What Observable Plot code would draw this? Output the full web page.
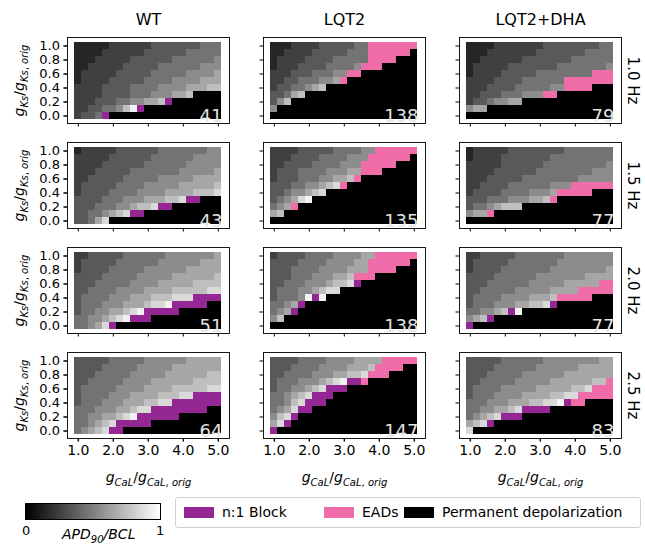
<!DOCTYPE html>
<html><head><meta charset="utf-8">
<script src="https://cdn.jsdelivr.net/npm/d3@7"></script>
<script src="https://cdn.jsdelivr.net/npm/@observablehq/plot@0.6"></script>
<style>
body{margin:0;background:#fff;font-family:"DejaVu Sans",sans-serif;color:#000;}
#wrap{position:relative;width:645px;height:544px;overflow:hidden;background:#fff;}
#chart{position:absolute;left:0;top:0;}
.abs{position:absolute;white-space:nowrap;}
#leg{position:absolute;left:175px;top:497px;width:466px;height:31px;border:1px solid #d0d0d0;border-radius:3px;box-sizing:border-box;font-size:14px;}
.sw{position:absolute;top:9px;width:30px;height:11px;}
.lt{position:absolute;top:6px;}
</style></head><body>
<div id="wrap">
<div id="chart"></div>
<div class="abs" style="left:25px;top:503px;width:136px;height:17px;background:linear-gradient(to right,#000,#fff);border:0.8px solid #000;box-sizing:border-box;"></div>
<div class="abs" style="left:22px;top:523px;font-size:13px;">0</div>
<div class="abs" style="left:156px;top:523px;font-size:13px;">1</div>
<div class="abs" style="left:62px;top:526px;font-size:14px;font-style:italic;">APD<sub style="font-size:10px">90</sub>/BCL</div>
<div id="leg">
  <div class="sw" style="left:8px;background:#942794"></div><div class="lt" style="left:46px">n:1 Block</div>
  <div class="sw" style="left:148px;background:#f06ca8"></div><div class="lt" style="left:186px">EADs</div>
  <div class="sw" style="left:228px;background:#000"></div><div class="lt" style="left:266px">Permanent depolarization</div>
</div>
</div>
<script>
// ---- categories / ticks ----
const genotypes = ["WT", "LQT2", "LQT2+DHA"];
const freqs = ["1.0 Hz", "1.5 Hz", "2.0 Hz", "2.5 Hz"];
const gCaL = [1.0,1.2,1.4,1.6,1.8,2.0,2.2,2.4,2.6,2.8,3.0,3.2,3.4,3.6,3.8,4.0,4.2,4.4,4.6,4.8,5.0];
const gKs = [1.0,0.9,0.8,0.7,0.6,0.5,0.4,0.3,0.2,0.1,0.0];
const xTicks = [1.0,2.0,3.0,4.0,5.0];
const yTicks = [0.0,0.2,0.4,0.6,0.8,1.0];
// numbers of abnormal cells per panel (1.0, 1.5, 2.0, 2.5 Hz)
const countsWT = [41, 43, 51, 64];
const countsLQT2 = [138, 135, 138, 147];
const countsDHA = [79, 77, 77, 83];
// ---- cell states, rows gKs 1.0 -> 0.0, cols gCaL 1.0 -> 5.0
// digit d: APD90/BCL about (d+0.5)/10 ; B = n:1 block ; E = EADs ; P = permanent depolarization
const WT_10 = [
"11111 22222 23333 33344 4","11112 22222 33333 34444 4","11122 22233 33334 44444 5",
"11222 22333 33444 44455 5","12222 23333 34444 45555 6","12222 33333 44445 55566 6",
"22223 33344 44555 56667 7","22223 33344 45556 67PPP P","22233 34455 667BP PPPPP P",
"22334 4579B PPPPP PPPPP P","2334B PPPPP PPPPP PPPPP P"];
const LQT2_10 = [
"11122 22333 3344E EEEEE E","11222 23333 3444E EEEEE P","12222 33334 4444E EEEPP P",
"12223 33344 445EE EPPPP P","22233 34445 5EEPP PPPPP P","22334 44556 EPPPP PPPPP P",
"23344 567PP PPPPP PPPPP P","33467 PPPPP PPPPP PPPPP P","357PP PPPPP PPPPP PPPPP P",
"5PPPP PPPPP PPPPP PPPPP P","PPPPP PPPPP PPPPP PPPPP P"];
const DHA_10 = [
"11112 22222 23333 33334 4","11122 22222 33333 33444 4","11222 22233 33333 44444 4",
"12222 23333 33344 44444 5","12222 33333 44444 444EE E","22223 33344 4444E EEEEE E",
"22233 33444 4455E EEEPP P","22333 44455 5EEPP PPPPP P","23345 566PP PPPPP PPPPP P",
"566PP PPPPP PPPPP PPPPP P","PPPPP PPPPP PPPPP PPPPP P"];
const WT_15 = [
"12222 23333 33444 44445 5","22222 33333 34444 44555 5","22223 33333 44444 45555 5",
"22233 33344 44444 55555 6","22333 33444 44555 55666 6","23333 34444 55555 66666 7",
"23333 44445 55566 66777 8","33334 44555 66677 8BBPP P","33344 45567 78BBP PPPPP P",
"33445 678BB PPPPP PPPPP P","33468 PPPPP PPPPP PPPPP P"];
const LQT2_15 = [
"22223 33334 44455 EEEEE E","22233 33444 4555E EEEEE P","22333 34444 555EE EEEPP P",
"23334 44455 566EE EPPPP P","23334 44556 67EPP PPPPP P","33344 55678 EPPPP PPPPP P",
"33455 678PP PPPPP PPPPP P","34568 9PPPP PPPPP PPPPP P","456EP PPPPP PPPPP PPPPP P",
"67PPP PPPPP PPPPP PPPPP P","PPPPP PPPPP PPPPP PPPPP P"];
const DHA_15 = [
"12222 23333 33334 44444 4","12222 33333 33444 44444 4","22222 33333 34444 44444 5",
"22223 33333 44444 44455 5","22233 33344 44444 45555 5","22333 34444 44555 EEEEE E",
"23333 44445 556EE EEEPP P","33344 45556 67EPP PPPPP P","34456 777PP PPPPP PPPPP P",
"566EP PPPPP PPPPP PPPPP P","PPPPP PPPPP PPPPP PPPPP P"];
const WT_20 = [
"22333 33444 44455 55555 6","23333 34444 44555 55566 6","23333 44444 55555 56666 6",
"33334 44445 55556 66666 7","33344 44455 55666 66777 7","33444 45555 66667 77778 8",
"34444 55566 67778 88BBB B","34445 55666 7889B BBBBP P","34455 66789 BBBBB PPPPP P",
"44556 789BB BPPPP PPPPP P","44568 BPPPP PPPPP PPPPP P"];
const LQT2_20 = [
"23333 44445 55566 EEEEE E","33334 44455 5566E EEEEE P","33344 44555 5666E EEEPP P",
"33344 45556 67EEE PPPPP P","33444 55567 78BPP PPPPP P","34445 56788 PPPPP PPPPP P",
"34445 9B9PP PPPPP PPPPP P","4456B PPPPP PPPPP PPPPP P","456BP PPPPP PPPPP PPPPP P",
"57PPP PPPPP PPPPP PPPPP P","PPPPP PPPPP PPPPP PPPPP P"];
const DHA_20 = [
"22333 33444 44445 55555 5","23333 34444 44455 55555 5","23333 44444 44555 55555 6",
"33334 44444 55555 55666 6","33344 44445 55556 6666E E","33444 44555 55666 6EEEE E",
"34444 55556 667EE EEEPP P","34445 55667 78BPP PPPPP P","44556 7B9PP PPPPP PPPPP P",
"567BP PPPPP PPPPP PPPPP P","BPPPP PPPPP PPPPP PPPPP P"];
const WT_25 = [
"33333 44444 55555 56666 6","33334 44445 55556 66666 6","33344 44455 55566 66667 7",
"33444 44555 56666 66777 7","34444 45555 66667 77778 8","34444 55566 66777 88BBB B",
"34445 55666 7788B BBBBB B","44455 56678 8BBBB BBBBP P","44556 6789B BBBBB PPPPP P",
"44567 8BBBB BPPPP PPPPP P","45678 BBPPP PPPPP PPPPP P"];
const LQT2_25 = [
"33334 44455 55666 6EEEE E","33344 44555 56667 EEEEP P","33444 45556 6778E EEPPP P",
"34445 55678 9BBEP PPPPP P","34455 678BB BPPPP PPPPP P","44567 8BBBP PPPPP PPPPP P",
"44578 BBBPP PPPPP PPPPP P","4568B BPPPP PPPPP PPPPP P","578BP PPPPP PPPPP PPPPP P",
"68BPP PPPPP PPPPP PPPPP P","BPPPP PPPPP PPPPP PPPPP P"];
const DHA_25 = [
"33333 44444 45555 55556 6","33334 44444 55555 56666 6","33344 44455 55556 66666 6",
"33444 44555 55666 66677 E","34444 55555 66666 778EE E","34445 55566 66778 8EEEE E",
"44455 56667 7889B EEPPP P","44556 678BB BBPPP PPPPP P","45678 BBBPP PPPPP PPPPP P",
"678BP PPPPP PPPPP PPPPP P","8PPPP PPPPP PPPPP PPPPP P"];

const panels = [
  {g:"WT", f:"1.0 Hz", rows:WT_10, n:countsWT[0]},
  {g:"LQT2", f:"1.0 Hz", rows:LQT2_10, n:countsLQT2[0]},
  {g:"LQT2+DHA", f:"1.0 Hz", rows:DHA_10, n:countsDHA[0]},
  {g:"WT", f:"1.5 Hz", rows:WT_15, n:countsWT[1]},
  {g:"LQT2", f:"1.5 Hz", rows:LQT2_15, n:countsLQT2[1]},
  {g:"LQT2+DHA", f:"1.5 Hz", rows:DHA_15, n:countsDHA[1]},
  {g:"WT", f:"2.0 Hz", rows:WT_20, n:countsWT[2]},
  {g:"LQT2", f:"2.0 Hz", rows:LQT2_20, n:countsLQT2[2]},
  {g:"LQT2+DHA", f:"2.0 Hz", rows:DHA_20, n:countsDHA[2]},
  {g:"WT", f:"2.5 Hz", rows:WT_25, n:countsWT[3]},
  {g:"LQT2", f:"2.5 Hz", rows:LQT2_25, n:countsLQT2[3]},
  {g:"LQT2+DHA", f:"2.5 Hz", rows:DHA_25, n:countsDHA[3]}
];

const grayCells = [], blockCells = [], eadCells = [], depolCells = [];
for (const p of panels) {
  p.rows.forEach((row, j) => {
    [...row.replace(/\s/g, "")].forEach((c, i) => {
      const d = {g: p.g, f: p.f, x: gCaL[i], y: gKs[j]};
      if (c === "B") blockCells.push(d);
      else if (c === "E") eadCells.push(d);
      else if (c === "P") depolCells.push(d);
      else { d.v = (+c + 0.5) / 10; grayCells.push(d); }
    });
  });
}

const BLOCK = "#942794", EAD = "#f06ca8";
const cellOpts = {x: "x", y: "y", fx: "g", fy: "f", inset: 0, shapeRendering: "crispEdges"};

const plot = Plot.plot({
  width: 645, height: 490,
  marginLeft: 66.7, marginRight: 23.3, marginTop: 36, marginBottom: 50.5,
  fx: {domain: genotypes, paddingInner: 0.172, paddingOuter: 0, axis: null},
  fy: {domain: freqs, paddingInner: 0.18, paddingOuter: 0, axis: null},
  x: {domain: gCaL, padding: 0, axis: null},
  y: {domain: gKs, padding: 0, axis: null},
  color: {type: "linear", domain: [0, 1], range: ["#000000", "#ffffff"], interpolate: "rgb"},
  style: {fontFamily: "DejaVu Sans, sans-serif", fontSize: "13px", color: "#000", background: "#fff", overflow: "visible"},
  marks: [
    Plot.cell(grayCells, {...cellOpts, fill: "v"}),
    Plot.cell(blockCells, {...cellOpts, fill: BLOCK}),
    Plot.cell(eadCells, {...cellOpts, fill: EAD}),
    Plot.cell(depolCells, {...cellOpts, fill: "#000"}),
    Plot.frame({stroke: "#000", strokeWidth: 0.9}),
    Plot.axisX({ticks: xTicks, tickSize: 3.5, tickFormat: () => "", label: null, facetAnchor: null}),
    Plot.axisY({ticks: yTicks, tickSize: 3.5, tickFormat: () => "", label: null, facetAnchor: null}),
    Plot.axisX({ticks: xTicks, tickSize: 3.5, tickPadding: 3, tickFormat: d3.format(".1f"), label: null, fontSize: 14}),
    Plot.axisY({ticks: yTicks, tickSize: 3.5, tickPadding: 4, tickFormat: d3.format(".1f"), label: null, fontSize: 13}),
    Plot.text(panels, {fx: "g", fy: "f", text: "n", frameAnchor: "bottom-right", dx: -7, dy: -2, fill: "#e4e4e4", fontSize: 18}),
    Plot.text(genotypes, {fx: d => d, fy: () => freqs[0], text: d => d, frameAnchor: "top", lineAnchor: "middle", dy: -18, fontSize: 16}),
    Plot.text(freqs, {fy: d => d, fx: () => genotypes[2], text: d => d, frameAnchor: "right", textAnchor: "middle", lineAnchor: "middle", rotate: 90, dx: 11, fontSize: 15}),
    Plot.text(freqs, {fy: d => d, fx: () => genotypes[0], text: () => "y", frameAnchor: "left", textAnchor: "middle", lineAnchor: "middle", rotate: -90, dx: -48, fontSize: 14, className: "ylab"}),
    Plot.text(genotypes, {fx: d => d, fy: () => freqs[3], text: () => "x", frameAnchor: "bottom", textAnchor: "middle", lineAnchor: "middle", dy: 39, fontSize: 14, className: "xlab"})
  ]
});
document.getElementById("chart").appendChild(plot);

function mathify(selector, sub) {
  d3.select(plot).selectAll(selector + " text").each(function () {
    const t = d3.select(this);
    t.text(null);
    t.append("tspan").attr("font-style", "italic").text("g");
    t.append("tspan").attr("font-style", "italic").attr("font-size", "10px").attr("dy", 4).text(sub);
    t.append("tspan").attr("dy", -4).text("/");
    t.append("tspan").attr("font-style", "italic").text("g");
    t.append("tspan").attr("font-size", "10px").attr("dy", 4).html('<tspan font-style="italic">' + sub + '</tspan>, <tspan font-style="italic">orig</tspan>');
  });
}
mathify(".ylab", "Ks");
mathify(".xlab", "CaL");
</script>
</body></html>
